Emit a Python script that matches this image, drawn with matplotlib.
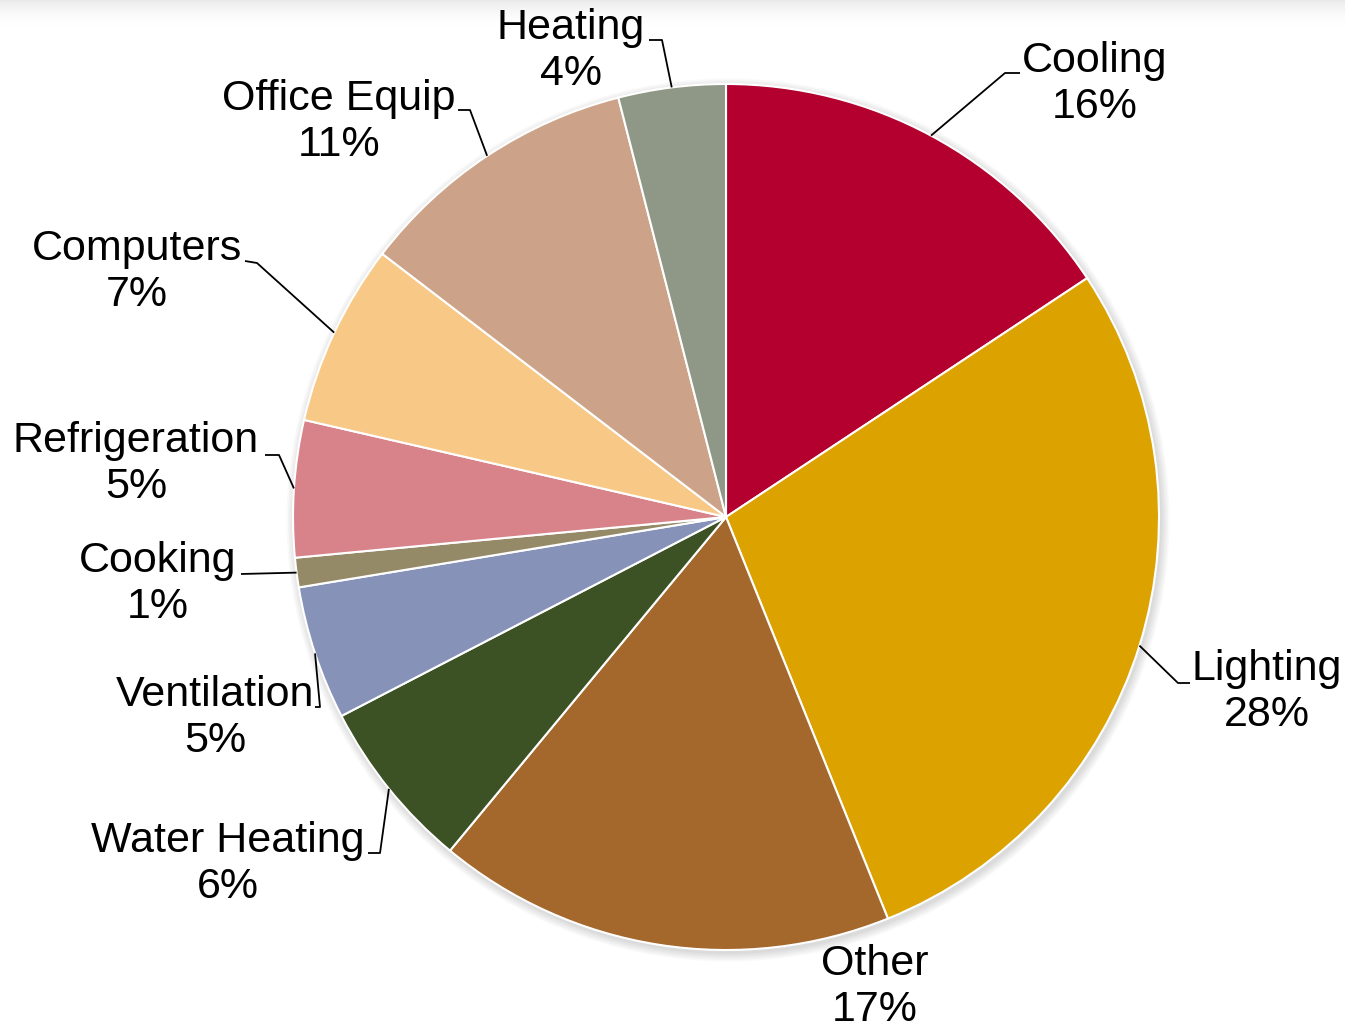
import numpy as np
import matplotlib
matplotlib.use("Agg")
import matplotlib.pyplot as plt

# energy end-use shares (%), clockwise from 12 o'clock
categories = ["Cooling", "Lighting", "Other", "Water Heating", "Ventilation",
              "Cooking", "Refrigeration", "Computers", "Office Equip", "Heating"]
shares = [15.7, 28.2, 17.1, 6.4, 5.0, 1.1, 5.1, 6.8, 10.6, 4.0]
colors = ["#B4002F", "#DBA200", "#A4672C", "#3C5124", "#8692B7",
          "#958A68", "#D8828A", "#F8C986", "#CCA388", "#8F9886"]

# label layout (figure pixels, y up): text centre, leader start, leader elbow
label_xy = [(1095, 945), (1267, 337), (875, 42), (228, 165), (215, 311),
            (158, 445), (136, 565), (137, 757), (339, 907), (571, 978)]
leader_start = [(1020, 956), (1190, 346), None, (368, 176), (315, 322),
                (241, 455), (265, 574), (245, 768), (458, 919), (649, 989)]
leader_elbow = [(1005, 956), (1178, 346), None, (380, 176), (320, 322),
                (241, 455), (279, 574), (257, 766), (470, 919), (662, 989)]

W, H = 1345, 1029
cx, cy, R = 726, 512, 433

plt.rcParams["font.family"] = ["Liberation Sans", "DejaVu Sans"]
fig = plt.figure(figsize=(W / 100, H / 100), dpi=100)
ax = fig.add_axes([0, 0, 1, 1])

# grey band fading down from the top edge
grad = np.linspace(0, 1, 100).reshape(-1, 1) ** 2
ax.imshow(grad, cmap="Greys", vmin=0, vmax=6, extent=(0, W, H - 30, H),
          origin="lower", aspect="auto", zorder=0)

# soft shadow round the pie
for i in range(6):
    ax.add_patch(plt.Circle((cx + 2, cy - 3), R + 1 + i * 1.5, color="k",
                            alpha=0.025, lw=0, zorder=1))

wedges, _ = ax.pie(shares, colors=colors, startangle=90, counterclock=False,
                   center=(cx, cy), radius=R, frame=True,
                   wedgeprops=dict(edgecolor="white", linewidth=1.5, zorder=2))
ax.set_xlim(0, W)
ax.set_ylim(0, H)
ax.set_aspect("equal")
ax.axis("off")

for w, name, val, pos, st, el in zip(wedges, categories, shares, label_xy,
                                     leader_start, leader_elbow):
    ax.text(pos[0], pos[1], f"{name}\n{round(val)}%", ha="center", va="center",
            fontsize=31, linespacing=1.22, zorder=4)
    if st is None:
        continue
    mid = np.deg2rad((w.theta1 + w.theta2) / 2)
    ex, ey = cx + R * np.cos(mid), cy + R * np.sin(mid)
    ax.plot([st[0], el[0], ex], [st[1], el[1], ey], color="black", lw=1.3,
            zorder=3, solid_capstyle="butt")

fig.savefig("out.png", dpi=100)
